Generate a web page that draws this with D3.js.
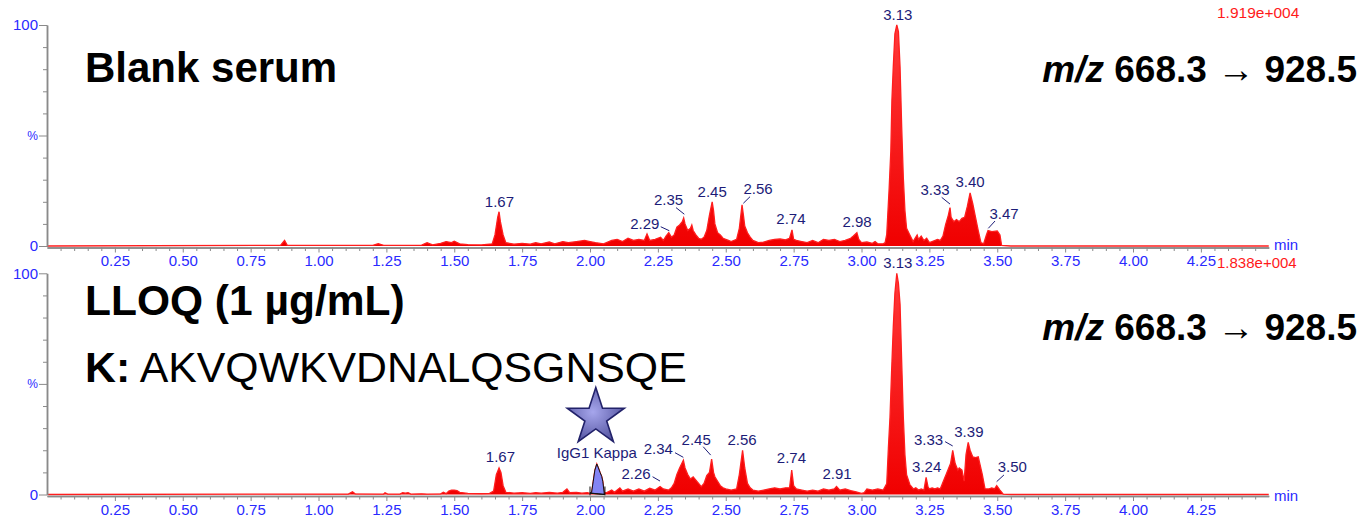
<!DOCTYPE html>
<html><head><meta charset="utf-8">
<script src="https://cdn.jsdelivr.net/npm/d3@7"></script>
<style>
body{margin:0;background:#fff;overflow:hidden}
svg{display:block}
text{font-family:"Liberation Sans",Arial,Helvetica,sans-serif}
</style>
</head><body>
<svg id="c" width="1362" height="517"></svg>
<script>
// ---------------- DATA ----------------
// Blank serum trace: [retention time (min), relative intensity (%)]
const blankTrace = [
 [0,0],[0.86,0.3],[0.875,2.5],[0.885,0.3],[1.20,0.3],[1.22,1],[1.24,0.3],[1.38,0.4],[1.40,1.5],[1.42,0.5],
 [1.45,1.2],[1.47,2],[1.49,1.5],[1.50,2.2],[1.52,1],[1.55,0.6],[1.60,0.5],[1.64,1],[1.65,5],[1.66,13],
 [1.665,15.5],[1.67,11],[1.68,5],[1.69,1.5],[1.72,0.8],[1.75,1.2],[1.78,0.8],[1.80,1.5],[1.82,1],[1.85,1.8],
 [1.87,1],[1.90,2],[1.92,1.5],[1.95,2],[1.98,2.5],[2.00,2],[2.02,1.5],[2.05,1],[2.08,2.5],[2.10,3],
 [2.12,2],[2.14,3.5],[2.16,2.5],[2.18,3],[2.20,2.5],[2.21,5.5],[2.22,2.5],[2.24,3],[2.26,4],[2.27,2.5],
 [2.28,4.5],[2.29,6],[2.30,4],[2.31,5],[2.32,8.5],[2.33,9.5],[2.34,11],[2.345,12.7],[2.35,10],[2.36,7],
 [2.37,8],[2.375,9.5],[2.38,7],[2.39,5],[2.40,3.5],[2.41,3],[2.42,4],[2.43,7],[2.44,14],[2.45,20],
 [2.455,16],[2.46,10],[2.47,6],[2.48,5],[2.49,3.5],[2.50,3],[2.51,2.5],[2.52,2],[2.54,3],[2.55,8],
 [2.56,18.6],[2.565,14],[2.57,9],[2.58,6],[2.59,4],[2.60,2.5],[2.62,1.5],[2.64,1.8],[2.66,2.5],[2.68,3],
 [2.70,3.2],[2.72,2.8],[2.735,3.5],[2.744,7.3],[2.75,3],[2.76,2.5],[2.78,2],[2.80,1.5],[2.82,2.5],[2.84,1.5],
 [2.86,3],[2.88,2.5],[2.90,3],[2.92,2],[2.94,2.5],[2.96,3.5],[2.97,4.5],[2.983,6],[2.99,3],[3.00,1.5],
 [3.02,1.8],[3.04,1.2],[3.05,2],[3.06,1],[3.08,1],[3.087,1.5],[3.093,5.3],[3.102,26.5],[3.108,43],[3.112,66],
 [3.117,81],[3.123,96],[3.130,100],[3.136,97],[3.142,81],[3.148,54],[3.154,31],[3.160,16],[3.166,8],[3.178,5],
 [3.190,2],[3.20,4],[3.205,5],[3.21,3],[3.22,4.5],[3.23,2.5],[3.24,3.5],[3.25,1.5],[3.26,2],[3.28,3],
 [3.29,2.5],[3.30,4.5],[3.31,9.8],[3.32,14],[3.326,17.4],[3.33,13],[3.34,11],[3.35,12],[3.36,11],[3.37,12.5],
 [3.38,13],[3.39,18],[3.40,24],[3.41,19],[3.42,13],[3.43,7],[3.44,1.5],[3.45,1],[3.46,5],[3.466,7],
 [3.48,6.5],[3.50,6.8],[3.51,5],[3.516,0.3],[3.55,0],[4.50,0]
];
// LLOQ (1 µg/mL) trace
const lloqTrace = [
 [0,0],[1.11,0.2],[1.125,1.2],[1.135,0.3],[1.24,0.2],[1.245,0.8],[1.255,0.2],[1.30,0.2],[1.31,0.8],[1.32,0.6],
 [1.33,0.8],[1.34,0.2],[1.38,0.3],[1.40,0.2],[1.45,0.3],[1.46,1],[1.47,0.4],[1.48,1.5],[1.49,2],[1.50,2],
 [1.51,1.8],[1.52,1],[1.55,0.5],[1.60,0.4],[1.63,0.5],[1.645,1.5],[1.655,9],[1.665,12],[1.672,10],[1.68,4],
 [1.69,1],[1.72,0.6],[1.75,0.8],[1.78,0.5],[1.80,0.8],[1.82,0.6],[1.85,0.9],[1.88,0.6],[1.90,1],[1.915,2.5],
 [1.925,0.8],[1.95,1],[1.97,0.6],[1.99,0.8],[2.000,0.5],[2.006,1],[2.012,6],[2.018,11],[2.025,13.8],[2.031,12],
 [2.037,10],[2.043,8.2],[2.047,6],[2.052,1],[2.06,0.8],[2.08,2],[2.09,1],[2.11,3],[2.12,1.5],[2.14,2.5],
 [2.16,1.5],[2.18,2.5],[2.20,1.5],[2.22,2.8],[2.24,2],[2.258,3.6],[2.27,2.5],[2.29,2],[2.30,3],[2.31,5],
 [2.32,9],[2.33,12],[2.344,15.5],[2.35,12],[2.36,9],[2.37,7],[2.38,8],[2.39,6.5],[2.40,5],[2.41,3.5],
 [2.42,5],[2.43,8.5],[2.44,10],[2.448,16],[2.455,10],[2.46,8],[2.47,6],[2.48,4],[2.49,3],[2.50,2.5],
 [2.52,2],[2.54,2.5],[2.55,9],[2.562,20],[2.57,12],[2.58,5],[2.59,3],[2.60,2],[2.62,1.5],[2.64,2],
 [2.66,2.5],[2.68,3],[2.70,2.5],[2.72,3],[2.735,3],[2.743,11],[2.75,4],[2.76,2.5],[2.78,2],[2.80,1.5],
 [2.82,2],[2.84,1.5],[2.86,2.5],[2.88,2],[2.90,2.5],[2.908,3.6],[2.92,2],[2.94,2.5],[2.96,1.8],[2.98,1.2],
 [3.00,0.5],[3.01,0.8],[3.02,2.5],[3.04,2],[3.06,2.5],[3.08,2],[3.093,5],[3.099,21],[3.105,35],[3.111,56],
 [3.117,75.6],[3.123,91],[3.130,100],[3.136,95.5],[3.142,86],[3.148,60],[3.154,35],[3.160,18],[3.166,9],[3.178,4.5],
 [3.191,2.5],[3.20,3],[3.21,2],[3.22,2.5],[3.23,2],[3.238,7.7],[3.245,3.5],[3.25,2.5],[3.26,3],[3.27,2.5],
 [3.28,3],[3.29,2.5],[3.30,5.5],[3.318,11],[3.328,14],[3.336,20],[3.345,14],[3.355,11],[3.36,12],[3.37,11],
 [3.378,6],[3.385,18],[3.393,23.6],[3.40,20],[3.41,17],[3.42,16.7],[3.43,17],[3.445,9],[3.455,2.5],[3.47,2.5],
 [3.48,3],[3.49,2.5],[3.498,4],[3.51,2],[3.522,0.2],[3.55,0],[4.50,0]
];
// Peak labels (retention times as printed)
const blankPeakLabels = ["1.67","2.29","2.35","2.45","2.56","2.74","2.98","3.13","3.33","3.40","3.47"];
const lloqPeakLabels  = ["1.67","IgG1 Kappa","2.26","2.34","2.45","2.56","2.74","2.91","3.13","3.24","3.33","3.39","3.50"];
const lloqPeakTimes   = [1.67,2.025,2.26,2.34,2.45,2.56,2.74,2.91,3.13,3.24,3.33,3.39,3.50];
const kappaWindow = [2.000, 2.055];   // integrated IgG1 Kappa peak
const xTickLabels = ["0.25","0.50","0.75","1.00","1.25","1.50","1.75","2.00","2.25","2.50","2.75","3.00","3.25","3.50","3.75","4.00","4.25"];
const yTickLabels = ["0","%","100"];
const intensityBlank = "1.919e+004";
const intensityLloq  = "1.838e+004";

// ---------------- LAYOUT ----------------
// label offsets relative to peak apex: [dx, dy, leader x1,y1,x2,y2] (leader optional)
const blankLabelLayout = [
 [-1,-5],[-24,-4,-8,-6,0.6,-2],[-16.5,-13,-9,-10.3,-0.7,-3.7],[0,-4.5],[16,-11,8,-8.2,1.3,-1.6],
 [0,-5.6],[1,-5.4],[1,-5],[-16,-12.5,-9.4,-10.2,-1.1,-3.5],[0,-5.7],[15,-12,5.9,-9.5,-0.8,-2.2]
];
const lloqLabelLayout = [
 [0,-5.7],[0,-5.7],[-24.6,-7.2,-8,-9.8,-0.6,-5.5],[-24,-6,-7.3,-7.5,1,-2.9],[-16,-14,-9,-12.4,-1.5,-4],
 [0,-5.3],[0.5,-7],[0,-7.2],[1,-5.5],[0,-5.8],[-22.6,-5.3,-6,-8.6,1.6,-4.3],[1.5,-5.6],[15,-13.4,6.7,-10.7,-0.6,-4]
];

const W = 1362, H = 517;
const svg = d3.select("#c");
const x = d3.scaleLinear().domain([0, 4.5]).range([47, 1268.75]);
const panels = [
  {trace: blankTrace, zero: 246, top: 25, labels: blankPeakLabels, times: blankPeakLabels.map(Number), layout: blankLabelLayout, axisY: 247.5, minDy: 2.5},
  {trace: lloqTrace, zero: 494.5, top: 273.3, labels: lloqPeakLabels, times: lloqPeakTimes, layout: lloqLabelLayout, axisY: 496, minDy: 5}
];

const defs = svg.append("defs");
const grad = defs.append("linearGradient").attr("id","redg").attr("x1",0).attr("y1",0).attr("x2",0).attr("y2",1);
grad.append("stop").attr("offset","0%").attr("stop-color","#ff3a3a");
grad.append("stop").attr("offset","100%").attr("stop-color","#f00000");
const sg = defs.append("radialGradient").attr("id","starg").attr("cx","45%").attr("cy","45%").attr("r","60%");
sg.append("stop").attr("offset","0%").attr("stop-color","#a6a6ec");
sg.append("stop").attr("offset","100%").attr("stop-color","#52529e");

const axisColor = "#8a8a8a", tickBlue = "#2a2aff", navy = "#1c1c78";
const minorT = d3.range(1, 90).map(i => i * 0.05).filter(t => Math.abs(t*4 - Math.round(t*4)) > 1e-6);
const majorT = xTickLabels.map(Number);

panels.forEach((p, pi) => {
  const y = d3.scaleLinear().domain([0, 100]).range([p.zero, p.top]);
  const g = svg.append("g");

  // filled chromatogram
  const area = d3.area().x(d => x(d[0])).y0(p.zero).y1(d => y(d[1]));
  const line = d3.line().x(d => x(d[0])).y(d => y(d[1]));
  g.append("path").datum(p.trace).attr("d", area).attr("fill","url(#redg)");
  g.append("path").datum(p.trace).attr("d", line).attr("fill","none").attr("stroke","#ff1e1e").attr("stroke-width",1.3);

  // integrated IgG1 Kappa peak (LLOQ only)
  if (pi === 1) {
    const seg = p.trace.filter(d => d[0] >= kappaWindow[0] && d[0] <= kappaWindow[1] + 1e-9);
    const bl = d3.scaleLinear().domain(kappaWindow).range([0.6, 0]);
    const ka = d3.area().x(d => x(d[0])).y0(d => y(bl(d[0]))).y1(d => y(Math.max(d[1], bl(d[0]))));
    g.append("path").datum(seg).attr("d", ka).attr("fill","#8484f4").attr("stroke","#111").attr("stroke-width",1);
    g.append("line").attr("x1", x(kappaWindow[0])).attr("x2", x(kappaWindow[1]))
      .attr("y1", y(bl(kappaWindow[0]))).attr("y2", y(0)).attr("stroke","#111").attr("stroke-width",1.2);
    kappaWindow.forEach(t => g.append("line").attr("x1", x(t)).attr("x2", x(t))
      .attr("y1", p.zero - 8).attr("y2", p.zero + 1).attr("stroke","#111").attr("stroke-width",1));
    // star marker above the label
    g.append("path").attr("d", d3.symbol(d3.symbolStar, 1010)())
      .attr("transform", `translate(${x(2.025) - 1},${y(0) - 77}) `)
      .attr("fill","url(#starg)").attr("stroke","#22226a").attr("stroke-width",1.6);
  }

  // x axis: minor & major ticks
  const xa = g.append("g").attr("transform", `translate(0,${p.axisY})`);
  xa.call(d3.axisBottom(x).tickValues(minorT).tickSize(3.5).tickSizeOuter(0).tickFormat(""));
  const xb = g.append("g").attr("transform", `translate(0,${p.axisY})`);
  xb.call(d3.axisBottom(x).tickValues(majorT).tickSize(5).tickPadding(3).tickSizeOuter(0)
    .tickFormat((d, i) => xTickLabels[i]));
  [xa, xb].forEach(a => {
    a.selectAll(".domain").attr("stroke", axisColor).attr("stroke-width",1.5);
    a.selectAll(".tick line").attr("stroke", axisColor).attr("stroke-width",1);
  });
  xb.selectAll(".tick text").attr("fill", tickBlue).attr("font-size", 15)
    .attr("font-family","'Liberation Sans',Arial,sans-serif");
  g.append("text").attr("x", 1274).attr("y", p.axisY + p.minDy).attr("fill", tickBlue).attr("font-size", 15).text("min");

  // y axis
  const ya = g.append("g").attr("transform", `translate(47,0)`);
  ya.call(d3.axisLeft(y).tickValues(d3.range(10, 100, 10).filter(v => v !== 50)).tickSize(4).tickSizeOuter(0).tickFormat(""));
  const yb = g.append("g").attr("transform", `translate(47,0)`);
  yb.call(d3.axisLeft(y).tickValues([0,50,100]).tickSize(8).tickPadding(1).tickSizeOuter(0)
    .tickFormat((d, i) => yTickLabels[i]));
  [ya, yb].forEach(a => {
    a.selectAll(".domain").attr("stroke", axisColor).attr("stroke-width",1.5);
    a.selectAll(".tick line").attr("stroke", axisColor).attr("stroke-width",1);
  });
  yb.selectAll(".tick text").attr("fill", tickBlue).attr("font-family","'Liberation Sans',Arial,sans-serif")
    .attr("font-size", (d) => d === 50 ? 12 : 15);

  // peak labels
  p.labels.forEach((lab, i) => {
    const rt = p.times[i];
    const near = p.trace.filter(d => Math.abs(d[0] - rt) <= 0.012);
    const apexV = d3.max(near, d => d[1]);
    const ax = x(rt), ay = y(apexV);
    const L = p.layout[i];
    g.append("text").attr("x", ax + L[0]).attr("y", ay + L[1]).attr("text-anchor","middle")
      .attr("fill", navy).attr("font-size", 15).text(lab);
    if (L.length > 2) {
      g.append("line").attr("x1", ax + L[2]).attr("y1", ay + L[3]).attr("x2", ax + L[4]).attr("y2", ay + L[5])
        .attr("stroke", navy).attr("stroke-width", 1);
    }
  });
});

// red intensity headers
svg.append("text").attr("x", 1217).attr("y", 17.5).attr("fill","#ff1a1a").attr("font-size",15.5).text(intensityBlank);
svg.append("text").attr("x", 1217).attr("y", 267.5).attr("fill","#ff1a1a").attr("font-size",15).text(intensityLloq);

// big annotation texts
const big = (xx, yy, fs) => svg.append("text").attr("x", xx).attr("y", yy)
  .attr("font-size", fs).attr("fill", "#000");
big(85, 82, 42).attr("font-weight","bold").text("Blank serum");
big(85, 315, 42.5).attr("font-weight","bold").text("LLOQ (1 µg/mL)");
const k = big(85, 382, 42.8);
k.append("tspan").attr("font-weight","bold").text("K:");
k.append("tspan").text(" AKVQWKVDNALQSGNSQE");
[82, 340].forEach(yy => {
  const t = svg.append("text").attr("x", 1357).attr("y", yy).attr("text-anchor","end").attr("font-size", 37).attr("fill","#000");
  t.append("tspan").attr("font-weight","bold").attr("font-style","italic").text("m/z");
  t.append("tspan").attr("font-weight","bold").text(" 668.3 ");
  t.append("tspan").attr("font-weight","normal").text("→");
  t.append("tspan").attr("font-weight","bold").text(" 928.5");
});
</script>
</body></html>
